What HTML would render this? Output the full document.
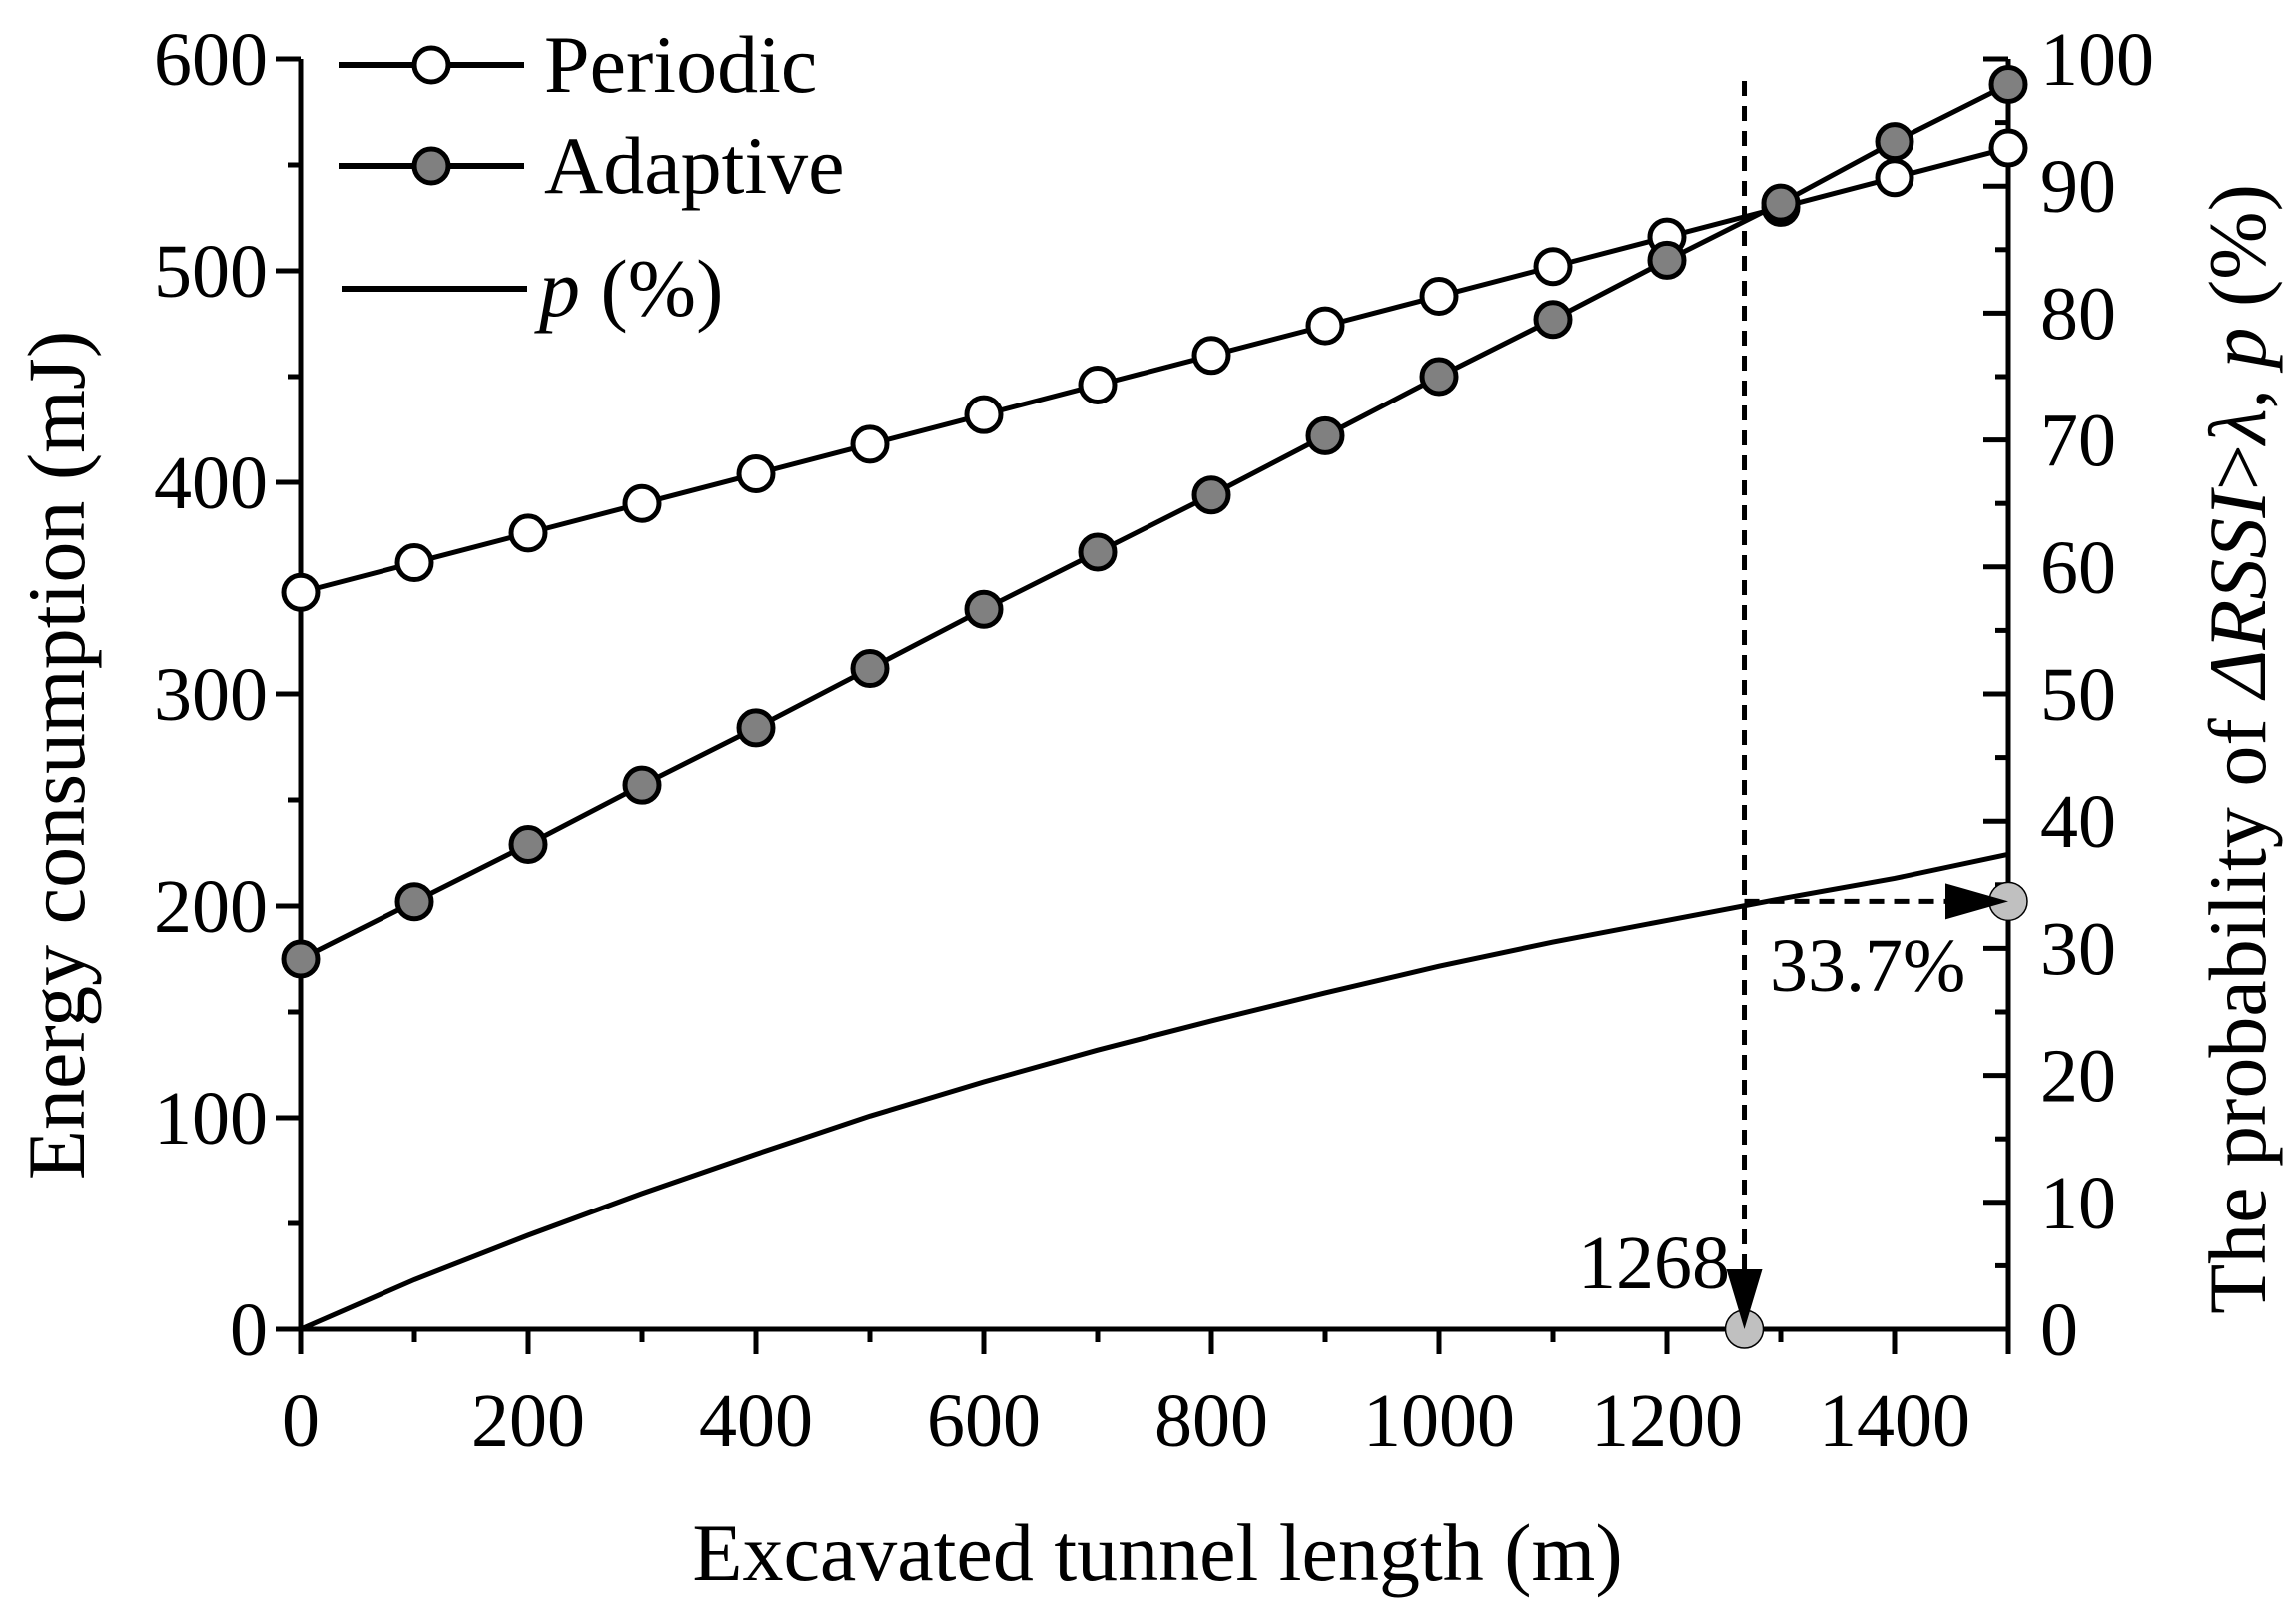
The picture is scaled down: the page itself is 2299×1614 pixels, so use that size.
<!DOCTYPE html>
<html><head><meta charset="utf-8"><style>
html,body{margin:0;padding:0;background:#fff;}
svg{display:block;font-family:"Liberation Serif",serif;}
</style></head><body>
<svg id="chart" width="2299" height="1614" viewBox="0 0 2299 1614" xmlns="http://www.w3.org/2000/svg"></svg>
<script>
const xValues=[0,100,200,300,400,500,600,700,800,900,1000,1100,1200,1300,1400,1500];
const periodicValues=[348,362,376,390,404,418,432,446,460,474,488,502,516,530,544,558];
const adaptiveValues=[175,202,229,257,284,312,340,367,394,422,450,477,505,532,561,588];
const pX=[0,100,200,300,400,500,600,700,800,900,1000,1100,1200,1300,1400,1500];
const pValues=[0,3.9,7.4,10.7,13.8,16.8,19.5,22.0,24.3,26.5,28.6,30.5,32.2,33.9,35.5,37.4];
const xTicks=[0,200,400,600,800,1000,1200,1400];
const leftTicks=[0,100,200,300,400,500,600];
const rightTicks=[0,10,20,30,40,50,60,70,80,90,100];
const markX=[1268];
const markP=[33.7];

const X0=301,X1=2011,Y0=1331,Y1=59;
const sx=v=>X0+(v/1500)*(X1-X0);
const syL=v=>Y0-(v/600)*(Y0-Y1);
const syR=v=>Y0-(v/100)*(Y0-Y1);
const svg=document.getElementById('chart');
const NS='http://www.w3.org/2000/svg';
function mk(tag,attrs,parent){const e=document.createElementNS(NS,tag);for(const k in attrs)e.setAttribute(k,attrs[k]);(parent||svg).appendChild(e);return e;}
const SW=5, FS=76, TS=82;

let g=mk('g',{});


mk('line',{x1:X0,y1:Y1,x2:X0,y2:Y0+25,stroke:'#000','stroke-width':SW},g);
mk('line',{x1:X1,y1:Y1,x2:X1,y2:Y0+25,stroke:'#000','stroke-width':SW},g);
mk('line',{x1:X0-25,y1:Y0,x2:X1,y2:Y0,stroke:'#000','stroke-width':SW},g);
for(let v=0;v<=600;v+=50){const major=v%100===0;mk('line',{x1:X0-(major?25:13),y1:syL(v),x2:X0,y2:syL(v),stroke:'#000','stroke-width':SW},g);}
leftTicks.forEach(v=>{const t=mk('text',{x:268,y:syL(v)+26,'font-size':FS,'text-anchor':'end'},g);t.textContent=v;

});
for(let v=0;v<=100;v+=5){const major=v%10===0;mk('line',{x1:X1-(major?25:13),y1:syR(v),x2:X1,y2:syR(v),stroke:'#000','stroke-width':SW},g);}
rightTicks.forEach(v=>{const t=mk('text',{x:2043,y:syR(v)+26,'font-size':FS,'text-anchor':'start'},g);t.textContent=v;

});
for(let v=0;v<=1500;v+=100){const major=v%200===0;mk('line',{x1:sx(v),y1:Y0,x2:sx(v),y2:Y0+(major?25:13),stroke:'#000','stroke-width':SW},g);}
xTicks.forEach(v=>{const t=mk('text',{x:sx(v),y:1448,'font-size':FS,'text-anchor':'middle'},g);t.textContent=v;

});

let t=mk('text',{x:1159,y:1582,'font-size':TS,'text-anchor':'middle'});t.textContent='Excavated tunnel length (m)';


t=mk('text',{x:0,y:0,'font-size':TS,'text-anchor':'middle',transform:'translate(84,756) rotate(-90)'});t.textContent='Energy consumption (mJ)';


t=mk('text',{x:0,y:0,'font-size':TS,'text-anchor':'middle',transform:'translate(2268,750) rotate(-90)'});
t.innerHTML='The probability of <tspan font-style="italic">ΔRSSI</tspan>&gt;<tspan font-style="italic">λ</tspan>, <tspan font-style="italic">p</tspan> (%)';



let pl=mk('polyline',{points:pX.map((x,i)=>sx(x)+','+syR(pValues[i])).join(' '),fill:'none',stroke:'#000','stroke-width':SW});



function series(vals,fill,name){
  const gg=mk('g',{});
  
  
  mk('polyline',{points:xValues.map((x,i)=>sx(x)+','+syL(vals[i])).join(' '),fill:'none',stroke:'#000','stroke-width':SW},gg);
  xValues.forEach((x,i)=>{const c=mk('circle',{cx:sx(x),cy:syL(vals[i]),r:17,fill:fill,stroke:'#000','stroke-width':5},gg);
  
  });
}
series(periodicValues,'#fff','periodic-series');
series(adaptiveValues,'#808080','adaptive-series');

const ax=sx(markX[0]), ay=syR(markP[0]);
g=mk('g',{});


mk('line',{x1:ax,y1:81,x2:ax,y2:Y0-50,stroke:'#000','stroke-width':5,'stroke-dasharray':'15,10'},g);
mk('line',{x1:ax,y1:ay,x2:X1-60,y2:ay,stroke:'#000','stroke-width':5,'stroke-dasharray':'15,10'},g);
mk('circle',{cx:ax,cy:Y0,r:19,fill:'#c0c0c0',stroke:'#000','stroke-width':1.5},g);
mk('circle',{cx:X1,cy:ay,r:19,fill:'#c0c0c0',stroke:'#000','stroke-width':1.5},g);
mk('polygon',{points:`${ax-18},${Y0-60} ${ax+18},${Y0-60} ${ax},${Y0}`,fill:'#000'},g);
mk('polygon',{points:`${X1-63},${ay-18} ${X1-63},${ay+18} ${X1},${ay}`,fill:'#000'},g);
t=mk('text',{x:1732,y:1290,'font-size':FS,'text-anchor':'end'},g);t.textContent='1268';


t=mk('text',{x:1772,y:992,'font-size':FS,'text-anchor':'start'},g);t.textContent='33.7%';



g=mk('g',{});


const rows=[[65,'#fff','Periodic'],[166,'#808080','Adaptive']];
rows.forEach(r=>{
  mk('line',{x1:339,y1:r[0],x2:525,y2:r[0],stroke:'#000','stroke-width':6},g);
  mk('circle',{cx:432,cy:r[0],r:17,fill:r[1],stroke:'#000','stroke-width':5},g);
  const tt=mk('text',{x:545,y:r[0]+27,'font-size':TS},g);tt.textContent=r[2];
  
  
});
mk('line',{x1:342,y1:289,x2:528,y2:289,stroke:'#000','stroke-width':6},g);
t=mk('text',{x:540,y:316,'font-size':TS},g);t.innerHTML='<tspan font-style="italic">p</tspan> (%)';


</script>
</body></html>
